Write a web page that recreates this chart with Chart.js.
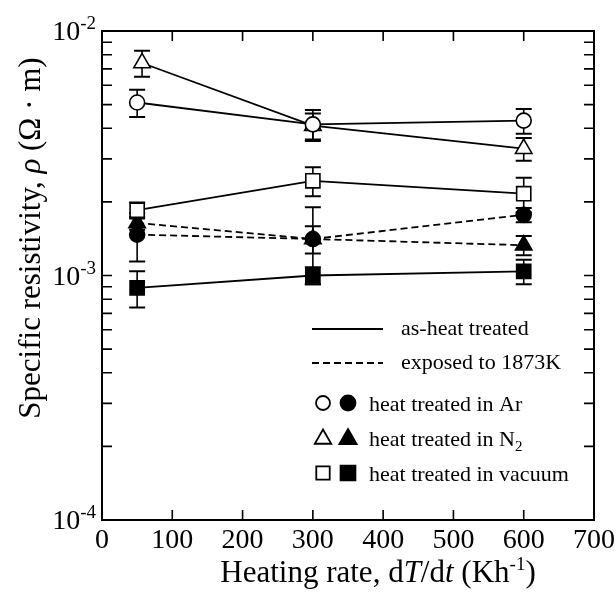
<!DOCTYPE html>
<html><head><meta charset="utf-8">
<script src="https://cdn.jsdelivr.net/npm/chart.js@4.4.1/dist/chart.umd.min.js"></script>
<style>html,body{margin:0;padding:0;background:#fff}#wrap{width:616px;height:592px}</style>
</head><body><div id="wrap"><canvas id="c" width="616" height="592"></canvas></div>
<script>
// ---- data ----
const xTickValues = [0, 100, 200, 300, 400, 500, 600, 700];
const yDecades = [1e-4, 1e-3, 1e-2];
const yDecadeExps = ['-4', '-3', '-2'];

const xArAs = [50, 300, 600];
const arAs = [5.1e-3, 4.15e-3, 4.3e-3];
const arAsErr = [0.65e-3, 0.6e-3, 0.5e-3];

const xN2As = [57, 300, 600];
const n2As = [7.4e-3, 4.1e-3, 3.3e-3];
const n2AsErr = [0.9e-3, 0.5e-3, 0.35e-3];

const xVacAs = [50, 300, 600];
const vacAs = [1.85e-3, 2.44e-3, 2.16e-3];
const vacAsErr = [0.14e-3, 0.33e-3, 0.35e-3];

const xArExp = [50, 300, 600];
const arExp = [1.47e-3, 1.41e-3, 1.77e-3];
const arExpErr = [0.33e-3, 0.49e-3, 0.12e-3];

const xN2Exp = [50, 300, 600];
const n2Exp = [1.64e-3, 1.41e-3, 1.33e-3];
const n2ExpErr = [0.1e-3, 0.18e-3, 0.12e-3];

const xVacExp = [50, 300, 600];
const vacExp = [0.89e-3, 1.0e-3, 1.04e-3];
const vacExpErr = [0.15e-3, 0.08e-3, 0.12e-3];

const legendRows = ['as-heat treated', 'exposed to 1873K', 'heat treated in Ar', 'heat treated in N', 'heat treated in vacuum'];

// ---- helpers ----
const FAM = '"Liberation Serif", "Times New Roman", serif';
const pts = (xs, ys) => xs.map((x, i) => ({x: x, y: ys[i]}));
function ds(xs, ys, errs, style, filled, dashed, radius) {
  return {
    data: pts(xs, ys), errors: errs, showLine: true,
    borderColor: '#000', borderWidth: 1.8, borderDash: dashed ? [7, 4] : [],
    pointStyle: style, pointRadius: radius, pointHoverRadius: radius,
    pointBackgroundColor: filled ? '#000' : '#fff', pointBorderColor: '#000', pointBorderWidth: 1.6
  };
}
function drawRich(ctx, parts, x, y, align) {
  let w = 0;
  parts.forEach(p => { ctx.font = (p.style || '') + ' ' + p.size + 'px ' + FAM; p.w = ctx.measureText(p.t).width; w += p.w; });
  let cx = align === 'center' ? x - w / 2 : (align === 'right' ? x - w : x);
  ctx.textAlign = 'left'; ctx.textBaseline = 'alphabetic';
  parts.forEach(p => { ctx.font = (p.style || '') + ' ' + p.size + 'px ' + FAM; ctx.fillText(p.t, cx, y + (p.dy || 0)); cx += p.w; });
}

const errorBars = {
  id: 'errorBars',
  beforeDatasetsDraw(chart) {
    const {ctx, scales: {x, y}} = chart;
    ctx.save(); ctx.strokeStyle = '#000';
    chart.data.datasets.forEach(d => {
      d.data.forEach((p, i) => {
        const e = d.errors[i];
        const px = x.getPixelForValue(p.x);
        const yt = y.getPixelForValue(p.y + e), yb = y.getPixelForValue(p.y - e);
        ctx.lineWidth = 1.6; ctx.beginPath(); ctx.moveTo(px, yt); ctx.lineTo(px, yb); ctx.stroke();
        ctx.lineWidth = 2; ctx.beginPath();
        ctx.moveTo(px - 8, yt); ctx.lineTo(px + 8, yt);
        ctx.moveTo(px - 8, yb); ctx.lineTo(px + 8, yb); ctx.stroke();
      });
    });
    ctx.restore();
  }
};

const frame = {
  id: 'frame',
  afterDraw(chart) {
    const {ctx, chartArea: a, scales: {x, y}} = chart;
    ctx.save(); ctx.strokeStyle = '#000'; ctx.fillStyle = '#000';
    ctx.lineWidth = 2; ctx.strokeRect(a.left, a.top, a.right - a.left, a.bottom - a.top);
    ctx.lineWidth = 1.6; ctx.beginPath();
    xTickValues.forEach(v => {
      const px = x.getPixelForValue(v);
      ctx.moveTo(px, a.bottom); ctx.lineTo(px, a.bottom - 10);
      ctx.moveTo(px, a.top); ctx.lineTo(px, a.top + 10);
    });
    for (let d = -4; d < -2; d++) {
      for (let m = 1; m <= 10; m++) {
        const py = y.getPixelForValue(m * Math.pow(10, d));
        ctx.moveTo(a.left, py); ctx.lineTo(a.left + 10, py);
        ctx.moveTo(a.right, py); ctx.lineTo(a.right - 10, py);
      }
    }
    ctx.stroke();
    // x tick labels
    ctx.font = '28px ' + FAM; ctx.textAlign = 'center'; ctx.textBaseline = 'alphabetic';
    xTickValues.forEach(v => ctx.fillText(String(v), x.getPixelForValue(v), 548));
    // y tick labels
    yDecades.forEach((v, i) => {
      const py = y.getPixelForValue(v);
      ctx.font = '19px ' + FAM; const we = ctx.measureText(yDecadeExps[i]).width;
      ctx.textAlign = 'right';
      ctx.fillText(yDecadeExps[i], 96, py - 2);
      ctx.font = '28px ' + FAM;
      ctx.fillText('10', 96 - we, py + 9);
    });
    // axis titles
    drawRich(ctx, [
      {t: 'Heating rate, d', size: 31}, {t: 'T', size: 31, style: 'italic'}, {t: '/d', size: 31},
      {t: 't', size: 31, style: 'italic'}, {t: ' (Kh', size: 31}, {t: '-1', size: 19, dy: -12}, {t: ')', size: 31}
    ], 378, 582, 'center');
    ctx.save(); ctx.translate(40, 238); ctx.rotate(-Math.PI / 2);
    drawRich(ctx, [
      {t: 'Specific resistivity, ', size: 31}, {t: '\u03C1', size: 31, style: 'italic'}, {t: ' (\u03A9 \u00B7 m)', size: 31}
    ], 0, 0, 'center');
    ctx.restore();
    // legend
    ctx.lineWidth = 1.8; ctx.setLineDash([]);
    ctx.beginPath(); ctx.moveTo(312, 329); ctx.lineTo(383, 329); ctx.stroke();
    ctx.setLineDash([7, 4]); ctx.beginPath(); ctx.moveTo(312, 363); ctx.lineTo(383, 363); ctx.stroke();
    ctx.setLineDash([]);
    drawRich(ctx, [{t: legendRows[0], size: 22}], 401, 335, 'left');
    drawRich(ctx, [{t: legendRows[1], size: 22}], 401, 369, 'left');
    drawRich(ctx, [{t: legendRows[2], size: 22}], 369, 411, 'left');
    drawRich(ctx, [{t: legendRows[3], size: 22}, {t: '2', size: 15, dy: 5}], 369, 446, 'left');
    drawRich(ctx, [{t: legendRows[4], size: 22}], 369, 481, 'left');
    const mk = (style, r, fill, cx, cy) => {
      ctx.fillStyle = fill; ctx.strokeStyle = '#000';
      Chart.helpers.drawPoint(ctx, {pointStyle: style, radius: r, borderWidth: 1.2}, cx, cy);
    };
    mk('circle', 7, '#fff', 323, 403); mk('circle', 7.5, '#000', 348, 403);
    mk('triangle', 9.5, '#fff', 323, 439); mk('triangle', 10, '#000', 348, 439);
    mk('rect', 9.5, '#fff', 323, 473); mk('rect', 10.5, '#000', 348, 473);
    ctx.restore();
  }
};

new Chart(document.getElementById('c'), {
  type: 'scatter',
  data: {
    datasets: [
      ds(xArAs, arAs, arAsErr, 'circle', false, false, 7.5),
      ds(xN2As, n2As, n2AsErr, 'triangle', false, false, 9.5),
      ds(xVacAs, vacAs, vacAsErr, 'rect', false, false, 10),
      ds(xArExp, arExp, arExpErr, 'circle', true, true, 7.5),
      ds(xN2Exp, n2Exp, n2ExpErr, 'triangle', true, true, 9.5),
      ds(xVacExp, vacExp, vacExpErr, 'rect', true, false, 10)
    ]
  },
  options: {
    responsive: false, animation: false, devicePixelRatio: 1,
    layout: {padding: {left: 0, right: 22, top: 31, bottom: 0}},
    plugins: {legend: {display: false}, tooltip: {enabled: false}},
    scales: {
      x: {type: 'linear', min: 0, max: 700, ticks: {display: false, stepSize: 100},
          grid: {display: false, drawTicks: false}, border: {display: false},
          afterFit(s) { s.height = 72; }},
      y: {type: 'logarithmic', min: 1e-4, max: 1e-2, ticks: {display: false},
          grid: {display: false, drawTicks: false}, border: {display: false},
          afterFit(s) { s.width = 102; }}
    }
  },
  plugins: [errorBars, frame]
});
</script></body></html>
